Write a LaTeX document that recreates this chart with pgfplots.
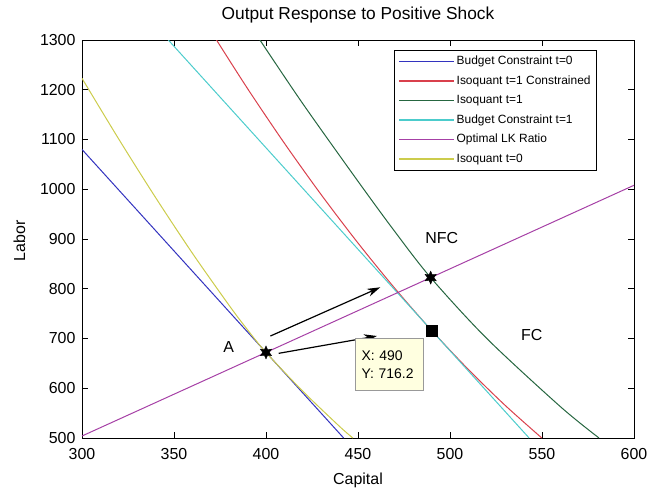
\documentclass[border=0pt]{standalone}
\usepackage{fontspec}
\setmainfont{Liberation Sans}
\usepackage{pgfplots}
\pgfplotsset{compat=1.18}
\usetikzlibrary{arrows.meta}
\definecolor{mblue}{rgb}{0.2,0.2,0.75}
\definecolor{mred}{rgb}{0.85,0.25,0.3}
\definecolor{mgreen}{rgb}{0.15,0.4,0.25}
\definecolor{mcyan}{rgb}{0.3,0.8,0.8}
\definecolor{mmag}{rgb}{0.65,0.25,0.65}
\definecolor{myel}{rgb}{0.8,0.8,0.3}
\definecolor{tipfill}{rgb}{1,1,0.88}
\pgfdeclareplotmark{hexstar}{%
  \pgfpathmoveto{\pgfqpoint{0pt}{\pgfplotmarksize}}%
  \pgfpathlineto{\pgfqpoint{-0.25\pgfplotmarksize}{0.433\pgfplotmarksize}}%
  \pgfpathlineto{\pgfqpoint{-0.866\pgfplotmarksize}{0.5\pgfplotmarksize}}%
  \pgfpathlineto{\pgfqpoint{-0.5\pgfplotmarksize}{0pt}}%
  \pgfpathlineto{\pgfqpoint{-0.866\pgfplotmarksize}{-0.5\pgfplotmarksize}}%
  \pgfpathlineto{\pgfqpoint{-0.25\pgfplotmarksize}{-0.433\pgfplotmarksize}}%
  \pgfpathlineto{\pgfqpoint{0pt}{-\pgfplotmarksize}}%
  \pgfpathlineto{\pgfqpoint{0.25\pgfplotmarksize}{-0.433\pgfplotmarksize}}%
  \pgfpathlineto{\pgfqpoint{0.866\pgfplotmarksize}{-0.5\pgfplotmarksize}}%
  \pgfpathlineto{\pgfqpoint{0.5\pgfplotmarksize}{0pt}}%
  \pgfpathlineto{\pgfqpoint{0.866\pgfplotmarksize}{0.5\pgfplotmarksize}}%
  \pgfpathlineto{\pgfqpoint{0.25\pgfplotmarksize}{0.433\pgfplotmarksize}}%
  \pgfpathclose
  \pgfusepathqfillstroke}
\begin{document}
\begin{tikzpicture}
\useasboundingbox (-82bp,-50bp) rectangle (567bp,438bp);
\begin{axis}[
  at={(0bp,0bp)}, anchor=south west,
  scale only axis, width=552bp, height=398bp,
  xmin=300, xmax=600, ymin=500, ymax=1300,
  xtick={300,350,400,450,500,550,600},
  ytick={500,600,700,800,900,1000,1100,1200,1300},
  tick align=inside, major tick length=6bp,
  tick style={black, line width=0.8bp},
  axis line style={black, line width=0.9bp},
  /pgf/number format/assume math mode=true,
  /pgf/number format/1000 sep={},
  ticklabel style={font=\fontsize{16}{18}\selectfont},
  xticklabel style={yshift=-7bp},
  yticklabel style={xshift=-3bp},
  title={Output Response to Positive Shock},
  title style={font=\fontsize{17.4}{20}\selectfont, at={(axis description cs:0.5,1.048)}, anchor=center},
  xlabel={Capital},
  xlabel style={font=\fontsize{16}{18}\selectfont, at={(axis description cs:0.5,-0.1055)}, anchor=center},
  ylabel={Labor},
  ylabel style={font=\fontsize{16}{18}\selectfont, at={(axis description cs:-0.1132,0.495)}, anchor=center},
  legend cell align=left,
  legend image code/.code={\draw[#1, line width=1.3bp] (0bp,0bp) -- (55bp,0bp);},
  legend style={at={(axis description cs:0.5652,0.9749)}, anchor=north west,
    draw=black, line width=0.8bp, fill=white,
    font=\fontsize{12}{14}\selectfont,
    inner xsep=4bp, inner ysep=3.5bp,
    nodes={inner sep=2bp, text height=9bp, text depth=2.5bp},
    row sep=4bp},
]
\addplot[mblue, line width=1bp] coordinates {(300,1080) (442.2,500)};
\addlegendentry{Budget Constraint t=0}
\addplot[mred, line width=1bp, smooth] coordinates {
 (373.1,1300) (390,1202.2) (410,1092.5) (430,989.1) (450,891.9) (470,800.9)
 (490,716.2) (510,637.7) (530,565.5) (549.9,500)};
\addlegendentry{Isoquant t=1 Constrained}
\addplot[mgreen, line width=1bp, smooth] coordinates {
 (396.7,1300) (420,1172) (450,1016) (470,915) (489.5,822.4) (520,700) (560,563) (581,500)};
\addlegendentry{Isoquant t=1}
\addplot[mcyan, line width=1bp] coordinates {(346.9,1300) (543.0,500)};
\addlegendentry{Budget Constraint t=1}
\addplot[mmag, line width=1bp] coordinates {(300,504) (600,1008)};
\addlegendentry{Optimal LK Ratio}
\addplot[myel, line width=1bp, smooth] coordinates {
 (300,1223) (320,1100.7) (340,983.3) (360,871.4) (380,766.4) (390,717.3)
 (400,672) (420,594) (440,523.2) (447.2,500)};
\addlegendentry{Isoquant t=0}
\addplot[only marks, mark=hexstar, mark size=6.5bp, black, forget plot] coordinates {(400,672) (489.5,822.4)};
\addplot[only marks, mark=square*, mark size=5.5bp, black, forget plot] coordinates {(490,716.2)};
\draw[-{Stealth[length=13bp,width=8bp,inset=4bp]}, line width=1.2bp] (axis cs:402.4,705) -- (axis cs:462.1,802.9);
\draw[-{Stealth[length=13bp,width=8bp,inset=4bp]}, line width=1.2bp] (axis cs:406.9,670.2) -- (axis cs:460.3,705);
\node[font=\fontsize{16}{18}\selectfont] at (axis cs:379.7,683.6) {A};
\node[font=\fontsize{16}{18}\selectfont] at (axis cs:495.5,901.3) {NFC};
\node[font=\fontsize{16}{18}\selectfont] at (axis cs:544.4,707) {FC};
\node[draw={rgb,1:red,0.6;green,0.6;blue,0.6}, fill=tipfill, line width=0.8bp, anchor=north west,
  align=left, text width=56bp, inner sep=6bp, minimum height=52bp,
  font=\fontsize{14}{19}\selectfont] at (axis cs:448.5,700.4) {X: 490\\Y: 716.2};
\end{axis}
\end{tikzpicture}
\end{document}
